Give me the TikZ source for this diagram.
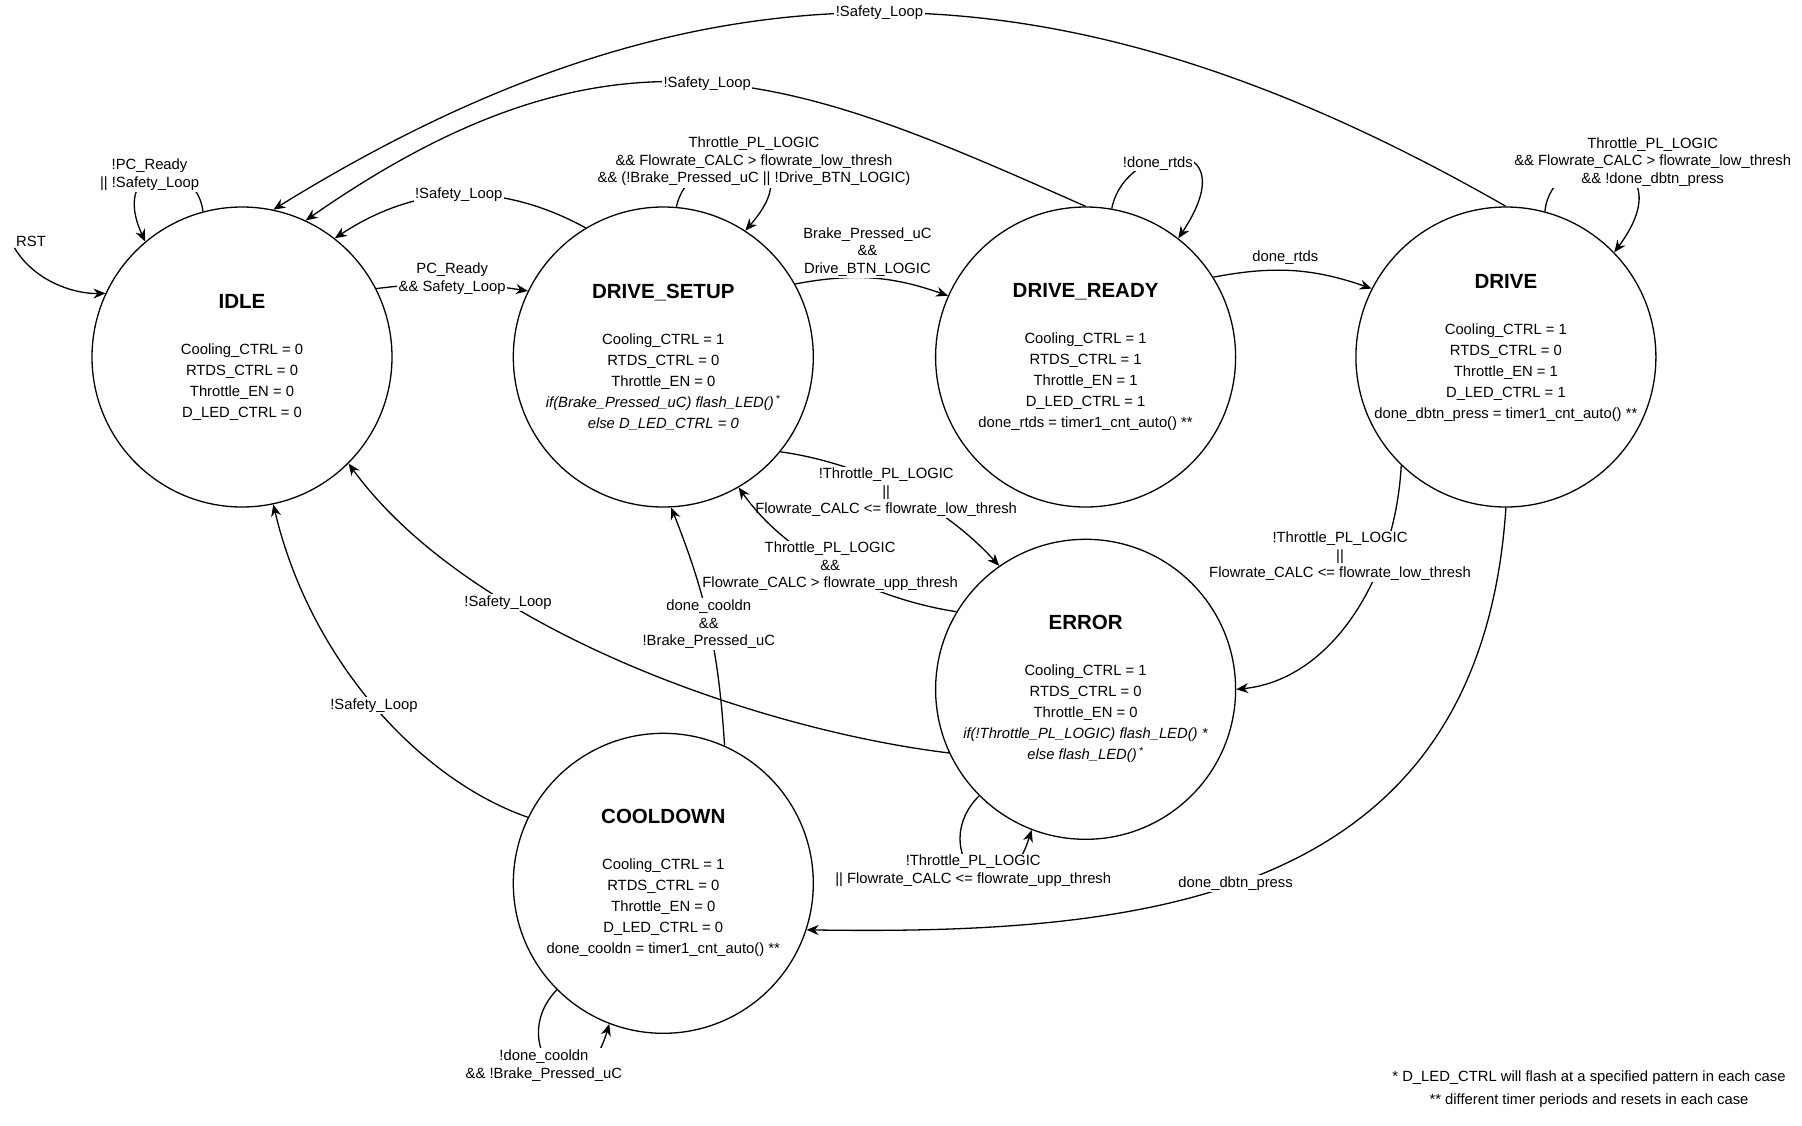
\documentclass[tikz,border=0pt]{standalone}
\usepackage{fontspec}
\setmainfont{Liberation Sans}
\usetikzlibrary{arrows.meta, positioning, backgrounds}

\newcommand{\sname}[1]{{\fontsize{20.5}{24}\selectfont\bfseries #1}}

\begin{document}
\begin{tikzpicture}[
    x=1pt, y=-1pt,
    state/.style = {circle, draw, line width=1.3pt, minimum size=300pt,
                    inner sep=-10pt, align=center,
                    font=\fontsize{14.8}{21}\selectfont},
    cond/.style  = {fill=white, align=center, inner sep=1.5pt,
                    font=\fontsize{14.8}{17.5}\selectfont},
    note/.style  = {align=center, font=\fontsize{14.8}{23}\selectfont},
    link/.style  = {-{Stealth[length=12pt, width=10pt]}, line width=1.3pt},
]
\useasboundingbox (0,0) rectangle (1802,1125);

% States (top row)
\node[state] (idle) at (242,357) {\sname{IDLE}\\[25pt]Cooling\_CTRL = 0\\RTDS\_CTRL = 0\\Throttle\_EN = 0\\D\_LED\_CTRL = 0};
\node[state, right=120pt of idle] (setup) {\sname{DRIVE\_SETUP}\\[25pt]Cooling\_CTRL = 1\\RTDS\_CTRL = 0\\Throttle\_EN = 0\\\textit{if(Brake\_Pressed\_uC) flash\_LED()}\,\textsuperscript{*}\\\textit{else D\_LED\_CTRL = 0}};
\node[state, right=121pt of setup] (ready) {\sname{DRIVE\_READY}\\[25pt]Cooling\_CTRL = 1\\RTDS\_CTRL = 1\\Throttle\_EN = 1\\D\_LED\_CTRL = 1\\done\_rtds = timer1\_cnt\_auto() **};
\node[state, right=119pt of ready] (drive) {\sname{DRIVE}\\[25pt]Cooling\_CTRL = 1\\RTDS\_CTRL = 0\\Throttle\_EN = 1\\D\_LED\_CTRL = 1\\done\_dbtn\_press = timer1\_cnt\_auto() **\\ \mbox{}};

% States (lower)
\node[state, below=31pt of ready] (error) {\sname{ERROR}\\[25pt]Cooling\_CTRL = 1\\RTDS\_CTRL = 0\\Throttle\_EN = 0\\\textit{if(!Throttle\_PL\_LOGIC) flash\_LED() *}\\\textit{else flash\_LED()}\,\textsuperscript{*}};
\node[state, below=225pt of setup] (cool) {\sname{COOLDOWN}\\[25pt]Cooling\_CTRL = 1\\RTDS\_CTRL = 0\\Throttle\_EN = 0\\D\_LED\_CTRL = 0\\done\_cooldn = timer1\_cnt\_auto() **};

\begin{scope}[on background layer]
% Reset
\node[cond, fill=none] (rst) at (31,241) {RST};
\draw[link] (rst.south west) .. controls (35,282) and (75,294) .. (idle.155);

% IDLE
\draw[link] (idle.105) .. controls (196,155) and (108,160) .. node[cond, xshift=-8pt] {!PC\_Ready\\|| !Safety\_Loop} (idle.130);
\draw[link] (idle.27) to[bend left=8] node[cond, yshift=5pt] {PC\_Ready\\\&\& Safety\_Loop} (setup.154);

% back to IDLE
\draw[link] (setup.121) to[bend right=31] node[cond] {!Safety\_Loop} (idle.52);
\draw[link] (ready.90) .. controls (800,80) and (622,0) .. node[cond] {!Safety\_Loop} (idle.65);
\draw[link] (drive.90) .. controls (1055,-52) and (697,-52) .. node[cond] {!Safety\_Loop} (idle.78);
\draw[link] (error.-155) .. controls (760,730) and (470,630) .. node[cond, pos=.68] {!Safety\_Loop} (idle.-45);
\draw[link] (cool.154) .. controls (420,780) and (310,660) .. node[cond] {!Safety\_Loop} (idle.-78);

% DRIVE_SETUP
\draw[link] (setup.85) .. controls (690,140) and (820,145) .. node[cond, xshift=10pt] {Throttle\_PL\_LOGIC\\\&\& Flowrate\_CALC > flowrate\_low\_thresh\\\&\& (!Brake\_Pressed\_uC || !Drive\_BTN\_LOGIC)} (setup.57);
\draw[link] (setup.29) to[bend left=15] node[cond, above, xshift=-5pt] {Brake\_Pressed\_uC\\\&\&\\Drive\_BTN\_LOGIC} (ready.156);
\draw[link] (setup.-39) .. controls (840,460) and (930,490) .. node[cond, yshift=-9pt] {!Throttle\_PL\_LOGIC\\||\\Flowrate\_CALC <= flowrate\_low\_thresh} (error.125);

% DRIVE_READY
\draw[link] (ready.80) .. controls (1125,140) and (1250,130) .. node[cond, xshift=-19pt, yshift=-6pt] {!done\_rtds} (ready.52);
\draw[link] (ready.32) to[bend left=15] node[cond, above, xshift=-8pt, yshift=4pt] {done\_rtds} (drive.153);

% DRIVE
\draw[link] (drive.75) .. controls (1552,140) and (1690,150) .. node[cond, xshift=42pt, yshift=5pt] {Throttle\_PL\_LOGIC\\\&\& Flowrate\_CALC > flowrate\_low\_thresh\\\&\& !done\_dbtn\_press} (drive.44);
\draw[link] (drive.-134) .. controls (1395,580) and (1330,680) .. node[cond, pos=.25, xshift=-46pt, yshift=-9pt] {!Throttle\_PL\_LOGIC\\||\\Flowrate\_CALC <= flowrate\_low\_thresh} (error.0);
\draw[link] (drive.-90) .. controls (1480,900) and (1150,935) .. node[cond, pos=.55] {done\_dbtn\_press} (cool.-18);

% ERROR
\draw[link] (error.149) .. controls (880,600) and (790,560) .. node[cond, xshift=-8pt, yshift=6pt] {Throttle\_PL\_LOGIC\\\&\&\\Flowrate\_CALC > flowrate\_upp\_thresh} (setup.-60);
\draw[link] (error.-135) .. controls (925,850) and (1000,930) .. node[cond] {!Throttle\_PL\_LOGIC\\|| Flowrate\_CALC <= flowrate\_upp\_thresh} (error.-111);

% COOLDOWN
\draw[link] (cool.66) to[bend right=9] node[cond] {done\_cooldn\\\&\&\\!Brake\_Pressed\_uC} (setup.-87);
\draw[link] (cool.-135) .. controls (504,1045) and (579,1125) .. node[cond, xshift=-8pt] {!done\_cooldn\\\&\& !Brake\_Pressed\_uC} (cool.-111);
\end{scope}

% Footnotes
\node[note] (fn) at (1589,1089) {* D\_LED\_CTRL will flash at a specified pattern in each case\\** different timer periods and resets in each case};

\end{tikzpicture}
\end{document}
